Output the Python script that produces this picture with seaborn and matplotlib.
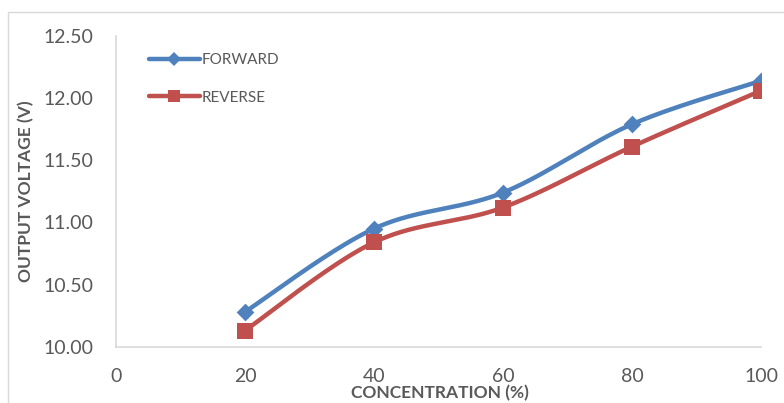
import numpy as np
import pandas as pd
import matplotlib
matplotlib.use("Agg")
import matplotlib.pyplot as plt
from matplotlib.lines import Line2D
from matplotlib.patches import Rectangle
import seaborn as sns

# Measured output voltage against concentration
concentration = [20, 40, 60, 80, 100]
forward = [10.28, 10.95, 11.24, 11.79, 12.14]
reverse = [10.13, 10.84, 11.12, 11.61, 12.06]
x_ticks = [0, 20, 40, 60, 80, 100]
y_ticks = [10.0, 10.5, 11.0, 11.5, 12.0, 12.5]

BLUE = "#4f81bd"
RED = "#c0504d"
GREY_TXT = "#595959"
GREY_LINE = "#d9d9d9"


def smooth(xs, ys, n=40):
    """Cubic Bezier smoothing through every point (Catmull-Rom style, tension 1/6)."""
    p = np.column_stack([xs, ys]).astype(float)
    pts = np.vstack([p[0], p, p[-1]])
    out = []
    t = np.linspace(0, 1, n)[:, None]
    for i in range(1, len(pts) - 2):
        p0, p1, p2, p3 = pts[i - 1], pts[i], pts[i + 1], pts[i + 2]
        c1 = p1 + (p2 - p0) / 6.0
        c2 = p2 - (p3 - p1) / 6.0
        seg = ((1 - t) ** 3) * p1 + 3 * ((1 - t) ** 2) * t * c1 + 3 * (1 - t) * t ** 2 * c2 + t ** 3 * p2
        out.append(seg if i == 1 else seg[1:])
    seg = np.vstack(out)
    return seg[:, 0], seg[:, 1]


sns.set_theme(style="white")
plt.rcParams["font.family"] = ["Lato", "DejaVu Sans"]

fig = plt.figure(figsize=(7.84, 4.03), dpi=100)
ax = fig.add_axes([116 / 784, 1 - 346.7 / 403, (761 - 116) / 784, (346.7 - 36) / 403])

series = [("FORWARD", forward, BLUE, "D", 9), ("REVERSE", reverse, RED, "s", 11.5)]
handles = []
for name, vals, col, mk, ms in series:
    sx, sy = smooth(concentration, vals)
    curve = pd.DataFrame({"x": sx, "y": sy})
    sns.lineplot(data=curve, x="x", y="y", sort=False, color=col, lw=3.2, ax=ax, legend=False)
    pts = pd.DataFrame({"x": concentration, "y": vals})
    sns.scatterplot(data=pts, x="x", y="y", marker=mk, s=ms ** 2, color=col, edgecolor=col,
                    linewidth=0, ax=ax, legend=False, zorder=3)
    handles.append(Line2D([0], [0], color=col, lw=3.2, marker=mk, markersize=ms * 0.75,
                          markeredgewidth=0, label=name))

ax.set_xlim(0, 100)
ax.set_ylim(10, 12.5)
ax.set_xticks(x_ticks)
ax.set_yticks(y_ticks)
ax.set_yticklabels([f"{v:.2f}" for v in y_ticks])
ax.tick_params(axis="both", length=0, labelsize=14, colors=GREY_TXT)
ax.tick_params(axis="x", pad=15)
ax.tick_params(axis="y", pad=16)
ax.set_xlabel("")
ax.set_ylabel("")

for side in ["top", "right"]:
    ax.spines[side].set_visible(False)
for side in ["left", "bottom"]:
    ax.spines[side].set_color(GREY_LINE)
    ax.spines[side].set_linewidth(1.2)

leg = ax.legend(handles=handles, loc="upper left", bbox_to_anchor=(0.03, 0.99),
                frameon=False, fontsize=11, labelcolor=GREY_TXT, handlelength=3.3,
                handletextpad=0.15, labelspacing=1.55)

fig.text(440 / 784, 1 - 393.5 / 403, "CONCENTRATION (%)", ha="center", va="center",
         fontsize=12.5, fontweight="bold", color=GREY_TXT)
fig.text(26 / 784, 1 - 191 / 403, "OUTPUT VOLTAGE (V)", ha="center", va="center",
         rotation=90, fontsize=12.5, fontweight="bold", color=GREY_TXT)

# chart-area border
fig.patches.append(Rectangle((8 / 784, -0.05), 1.2, 1 - 12 / 403 + 0.05, transform=fig.transFigure,
                             fill=False, edgecolor=GREY_LINE, lw=1.0))

fig.savefig("out.png", dpi=100)
